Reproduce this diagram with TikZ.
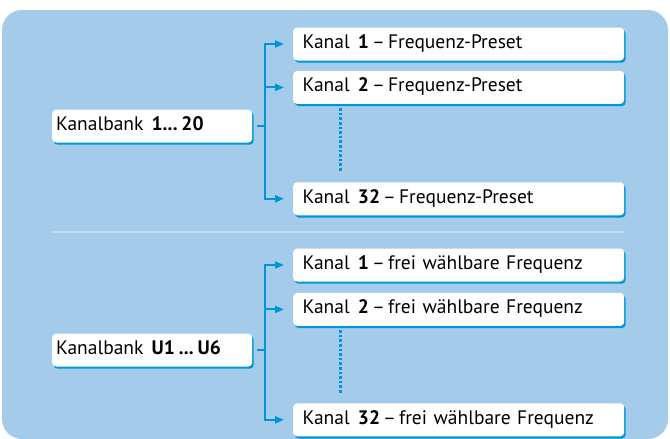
\documentclass[tikz,border=0pt]{standalone}
\usepackage{fontspec}
\setmainfont{PT Sans}
\usepackage{xcolor}
\usepackage{tikz}
\usetikzlibrary{shapes,arrows.meta,positioning,shadows,calc}

\definecolor{bgblue}{RGB}{165,203,235}
\definecolor{lineblue}{RGB}{0,150,214}
\definecolor{seplight}{RGB}{192,220,243}

\newcommand{\numgap}{\hspace{0.42em}}
\newcommand{\kdash}{\hspace{0.16em}--\hspace{0.16em}}
\newcommand{\boxfont}{\fontsize{19.5}{22}\selectfont}

\begin{document}
\begin{tikzpicture}[x=1pt, y=-1pt, node distance=10pt,
  every node/.style={font=\boxfont, align=left},
  box/.style={fill=white, rounded corners=4pt, minimum height=33pt, anchor=west, text height=13.5pt, text depth=4.5pt,
    drop shadow={shadow xshift=1.5pt, shadow yshift=-2.2pt, fill=lineblue, opacity=1}},
  bankbox/.style={box, text width=192pt, inner xsep=4pt},
  chanbox/.style={box, text width=312pt, inner xsep=9.5pt},
  conn/.style={draw=lineblue, line width=2pt},
  arr/.style={conn, -{Triangle[length=9pt,width=7pt]}, shorten >=9pt},
  vdots/.style={draw=lineblue, line width=3pt, dash pattern=on 2.6pt off 2pt}]
\useasboundingbox (0,0) rectangle (670,439);
% Background
\fill[bgblue, rounded corners=20pt] (2,10) rectangle (668,439);
\draw[seplight, line width=1.5pt] (52,232) -- (623,232);
% Upper group: presets
\node[bankbox] (bank1) at (52,126) {Kanalbank\numgap\textbf{1...\hspace{0.2em}20}};
\node[chanbox] (pre1) at (293,44) {Kanal\numgap\textbf{1}\kdash Frequenz-Preset};
\node[chanbox, below=10pt of pre1] (pre2) {Kanal\numgap\textbf{2}\kdash Frequenz-Preset};
\node[chanbox, below=78pt of pre2] (pre32) {Kanal\numgap\textbf{32}\kdash Frequenz-Preset};
% Lower group: free frequencies
\node[bankbox] (bank2) at (52,350) {Kanalbank\numgap\textbf{U1\hspace{0.2em}...\hspace{0.2em}U6}};
\node[chanbox] (frei1) at (293,265) {Kanal\numgap\textbf{1}\kdash frei wählbare Frequenz};
\node[chanbox, below=11pt of frei1] (frei2) {Kanal\numgap\textbf{2}\kdash frei wählbare Frequenz};
\node[chanbox, below=77pt of frei2] (frei32) {Kanal\numgap\textbf{32}\kdash frei wählbare Frequenz};
% Brackets
\coordinate[right=13pt of bank1.east] (j1);
\coordinate[right=13pt of bank2.east] (j2);
\draw[conn, shorten <=5pt] (bank1.east) -- (j1);
\draw[arr] (j1) |- (pre1.west);
\draw[arr] (j1) |- (pre2.west);
\draw[arr] (j1) |- (pre32.west);
\draw[conn, shorten <=5pt] (bank2.east) -- (j2);
\draw[arr] (j2) |- (frei1.west);
\draw[arr] (j2) |- (frei2.west);
\draw[arr] (j2) |- (frei32.west);
% Dots
\draw[vdots] ($(pre2.south west)+(47pt,-4pt)$) -- ($(pre32.north west)+(47pt,10pt)$);
\draw[vdots] ($(frei2.south west)+(47pt,-4pt)$) -- ($(frei32.north west)+(47pt,10pt)$);
\end{tikzpicture}
\end{document}
